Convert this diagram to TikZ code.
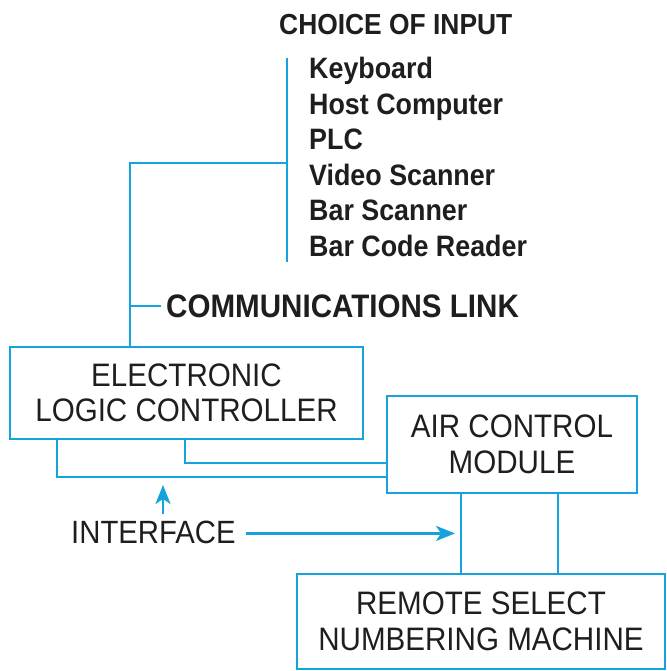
\documentclass[tikz,border=0pt]{standalone}
\usepackage{fontspec}
\setmainfont[FakeStretch=0.91]{Liberation Sans}
\usetikzlibrary{arrows.meta}
\definecolor{cy}{RGB}{22,162,218}
\definecolor{ink}{RGB}{30,30,30}
\begin{document}
\begin{tikzpicture}[x=1pt,y=-1pt,
  line/.style={draw=cy,line width=2.8pt},
  box/.style={draw=cy,line width=2.8pt,align=center,inner sep=0pt,text=ink,
    font=\fontsize{32.5}{35.5}\selectfont},
  item/.style={anchor=base west,inner sep=0pt,text=ink,
    font=\fontsize{29.5}{30}\selectfont\bfseries},
  plain/.style={anchor=base west,inner sep=0pt,text=ink,
    font=\fontsize{32.2}{34}\selectfont},
  arr/.style={draw=cy,line width=2.4pt,-{Stealth[length=19pt,width=15pt,inset=5pt]}}]
\useasboundingbox (0,0) rectangle (666,671);

% boxes
\node[box,minimum width=353pt,minimum height=92pt] (elc) at (186.5,393) {ELECTRONIC\\LOGIC CONTROLLER};
\node[box,minimum width=250pt,minimum height=97pt] (acm) at (512,444.5) {AIR CONTROL\\MODULE};
\node[box,minimum width=368pt,minimum height=95pt] (rsnm) at (481,621.5) {REMOTE SELECT\\NUMBERING MACHINE};

% titles and list
\node[anchor=base west,inner sep=0pt,text=ink,font=\fontsize{29}{30}\selectfont\bfseries] (choice) at (279,35) {CHOICE OF INPUT};
\node[item] (i1) at (309,79) {Keyboard};
\node[item] (i2) at (309,114.4) {Host Computer};
\node[item] (i3) at (309,149.8) {PLC};
\node[item] (i4) at (309,185.2) {Video Scanner};
\node[item] (i5) at (309,220.6) {Bar Scanner};
\node[item] (i6) at (309,256) {Bar Code Reader};
\node[anchor=base west,inner sep=0pt,text=ink,font=\fontsize{32.5}{34}\selectfont\bfseries] (comm) at (166,317) {COMMUNICATIONS LINK};
\node[plain] (intf) at (71,543) {INTERFACE};

% helper coordinates
\coordinate (ltop) at (287,58);
\coordinate (lbot) at (287,262);
\coordinate (junc) at (287,163);
\coordinate (cx) at (130,0);
\coordinate (c1) at (185,0);
\coordinate (c2) at (57,0);
\coordinate (h1) at (0,463);
\coordinate (h2) at (0,477);
\coordinate (v1) at (461,0);
\coordinate (v2) at (558,0);
\coordinate (a1s) at (163,514);
\coordinate (a1e) at (163,485);
\coordinate (tip) at (455,0);

% connectors
\draw[line] (ltop) -- (lbot);
\draw[line] (junc) -| (elc.north -| cx);
\draw[line,line width=2.4pt] (comm.west -| cx) -- ([xshift=-5pt]comm.west);
\draw[line] (elc.south -| c1) |- (acm.west |- h1);
\draw[line] (elc.south -| c2) |- (acm.west |- h2);
\draw[line] (acm.south -| v1) -- (rsnm.north -| v1);
\draw[line] (acm.south -| v2) -- (rsnm.north -| v2);
\draw[arr] (a1s) -- (a1e);
\draw[arr] ([xshift=10pt,yshift=-1.5pt]intf.east) -- ([yshift=-1.5pt]intf.east -| tip);
\end{tikzpicture}
\end{document}
